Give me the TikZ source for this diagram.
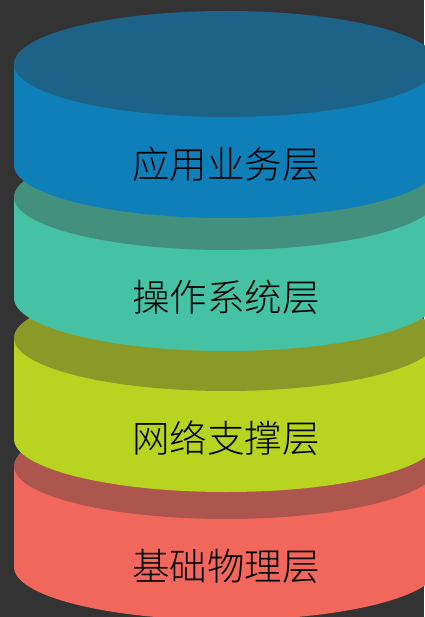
\documentclass[tikz,border=0pt]{standalone}
\usepackage{fontspec}
\newfontfamily\cjk{Noto Sans CJK SC Light}
\definecolor{bg}{HTML}{333333}
\definecolor{sideA}{HTML}{0E7FB8}\definecolor{topA}{HTML}{1C6387}
\definecolor{sideB}{HTML}{45C2A4}\definecolor{topB}{HTML}{43907C}
\definecolor{sideC}{HTML}{B8D420}\definecolor{topC}{HTML}{8A9A28}
\definecolor{sideD}{HTML}{F2675B}\definecolor{topD}{HTML}{AD564D}
\tikzset{
  layertext/.style={font=\cjk\fontsize{37.5}{42}\selectfont, text=black, inner sep=0pt},
}
\newcommand{\cylinder}[5]{% name, top y, side colour, top colour, text
  \fill[#3] (226,#2+101) ellipse[x radius=212, y radius=53];
  \fill[#3] (14,#2) rectangle (438,#2+101);
  \fill[#4] (226,#2) ellipse[x radius=212, y radius=53];
  \node[layertext] (#1) at (226,#2+100) {#5};
}
\begin{document}
\begin{tikzpicture}[x=1pt,y=-1pt]
\fill[bg] (0,0) rectangle (424,617);
\useasboundingbox (0,0) rectangle (424,617);
\cylinder{phys}{466}{sideD}{topD}{基础物理层}
\cylinder{net}{338}{sideC}{topC}{网络支撑层}
\cylinder{os}{197}{sideB}{topB}{操作系统层}
\cylinder{app}{64}{sideA}{topA}{应用业务层}
\end{tikzpicture}
\end{document}
